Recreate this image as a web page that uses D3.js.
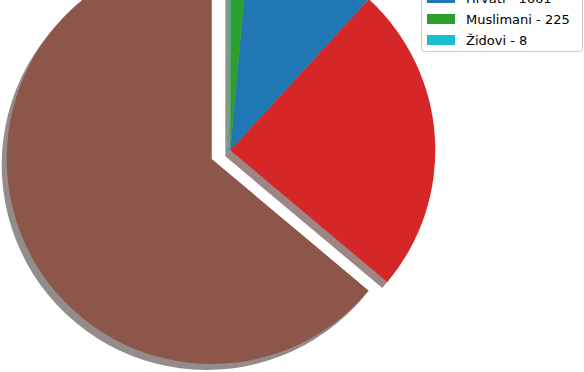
<!DOCTYPE html>
<html>
<head>
<meta charset="utf-8">
<script src="https://cdn.jsdelivr.net/npm/d3@7"></script>
<style>
  html, body { margin: 0; padding: 0; background: #fff; }
  svg { display: block; font-family: "DejaVu Sans", sans-serif; }
</style>
</head>
<body>
<svg id="chart"></svg>
<script>
// pie data, counter-clockwise from 12 o'clock
const categories = ['Srbi', 'Jugoslaveni', 'Hrvati', 'Muslimani', 'Židovi'],
      values = [10250, 3899, 1661, 225, 8],
      colors = ['#8c564b', '#d62728', '#1f77b4', '#2ca02c', '#17becf'],
      explode = [0.1, 0, 0, 0, 0];

const width = 584,
      height = 372,
      cx = 230.3,
      cy = 150.3,
      radius = 205,
      shadowDx = -5,
      shadowDy = 6;

const $chart = d3.select('#chart')
  .attr('width', width)
  .attr('height', height);

const data = categories.map((c, i) => ({
  name: c,
  value: values[i],
  color: colors[i],
  explode: explode[i]
}));

const pie = d3.pie()
  .sort(null)
  .value((d) => d.value)
  .startAngle(0)
  .endAngle(-2 * Math.PI);

const arc = d3.arc()
  .innerRadius(0)
  .outerRadius(radius);

const slices = pie(data);

function offset(d) {
  const mid = (d.startAngle + d.endAngle) / 2,
        e = d.data.explode * radius;
  return [Math.sin(mid) * e, -Math.cos(mid) * e];
}

const $pie = $chart.append('g')
  .attr('transform', `translate(${cx},${cy})`);

// shadows first, all below the wedges
$pie.selectAll('.shadow')
  .data(slices)
  .enter()
  .append('path')
    .classed('shadow', true)
    .attr('transform', (d) => {
      const o = offset(d);
      return `translate(${o[0] + shadowDx},${o[1] + shadowDy})`;
    })
    .attr('d', arc)
    .attr('fill', (d) => {
      const c = d3.rgb(d.data.color);
      return d3.rgb(c.r * 0.3, c.g * 0.3, c.b * 0.3);
    })
    .attr('fill-opacity', 0.5);

$pie.selectAll('.wedge')
  .data(slices)
  .enter()
  .append('path')
    .classed('wedge', true)
    .attr('transform', (d) => {
      const o = offset(d);
      return `translate(${o[0]},${o[1]})`;
    })
    .attr('d', arc)
    .attr('fill', (d) => d.data.color);

// legend, top part runs off the picture
const rowY = d3.scaleLinear()
  .domain([0, categories.length - 1])
  .range([-44, 40]);

const legendLeft = 421.5,
      legendRight = 582.5,
      legendBottom = 51.5,
      legendTop = rowY(0) - 14;

const $legend = $chart.append('g');

$legend.append('rect')
  .attr('x', legendLeft)
  .attr('y', legendTop)
  .attr('width', legendRight - legendLeft)
  .attr('height', legendBottom - legendTop)
  .attr('rx', 3)
  .attr('fill', '#fff')
  .attr('fill-opacity', 0.8)
  .attr('stroke', '#cccccc')
  .attr('stroke-width', 1);

const items = $legend.selectAll('.item')
  .data(data)
  .enter()
  .append('g')
    .classed('item', true)
    .attr('transform', (d, i) => `translate(0,${rowY(i)})`);

items.append('rect')
  .attr('x', 427)
  .attr('y', -5)
  .attr('width', 28)
  .attr('height', 10)
  .attr('fill', (d) => d.color);

items.append('text')
  .attr('x', 466)
  .attr('y', 0)
  .attr('dy', '0.36em')
  .attr('font-size', 13)
  .attr('fill', '#000')
  .text((d) => `${d.name} - ${d.value}`);
</script>
</body>
</html>
